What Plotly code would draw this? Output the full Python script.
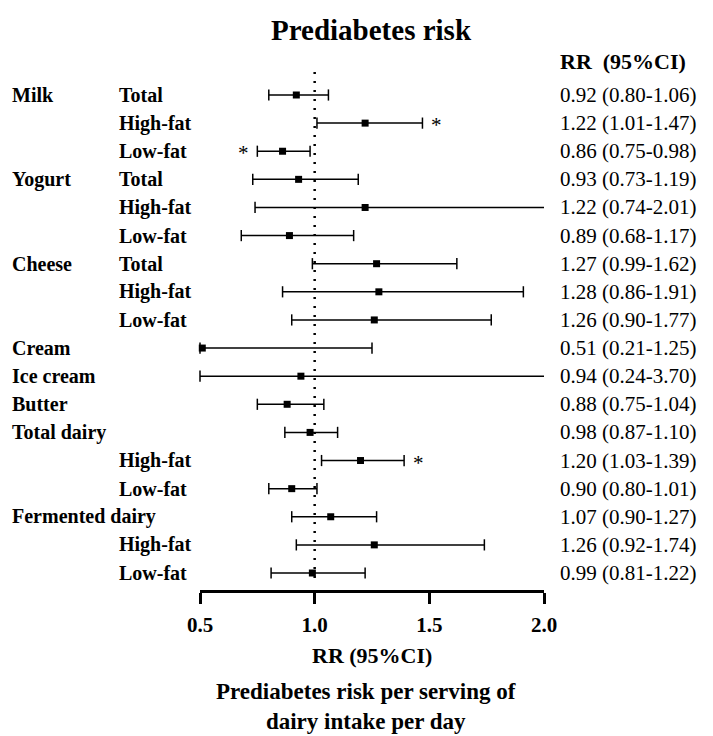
import plotly.graph_objects as go

# ---------------- data ----------------
groups = ["Milk", "", "", "Yogurt", "", "", "Cheese", "", "", "Cream", "Ice cream",
          "Butter", "Total dairy", "", "", "Fermented dairy", "", ""]
subgroups = ["Total", "High-fat", "Low-fat", "Total", "High-fat", "Low-fat", "Total",
             "High-fat", "Low-fat", "", "", "", "", "High-fat", "Low-fat", "",
             "High-fat", "Low-fat"]
rr = [0.92, 1.22, 0.86, 0.93, 1.22, 0.89, 1.27, 1.28, 1.26, 0.51, 0.94, 0.88,
      0.98, 1.20, 0.90, 1.07, 1.26, 0.99]
ci_low = [0.80, 1.01, 0.75, 0.73, 0.74, 0.68, 0.99, 0.86, 0.90, 0.21, 0.24, 0.75,
          0.87, 1.03, 0.80, 0.90, 0.92, 0.81]
ci_high = [1.06, 1.47, 0.98, 1.19, 2.01, 1.17, 1.62, 1.91, 1.77, 1.25, 3.70, 1.04,
           1.10, 1.39, 1.01, 1.27, 1.74, 1.22]
significant = [False, True, True, False, False, False, False, False, False, False,
               False, False, False, True, False, False, False, False]
tick_vals = [0.5, 1.0, 1.5, 2.0]
tick_text = ["0.5", "1.0", "1.5", "2.0"]
bottom_title = ["Prediabetes risk per serving of", "dairy intake per day"]
x_min, x_max = 0.5, 2.0

# ---------------- layout geometry (pixels) ----------------
W, H = 713, 736
PL, PR = 200, 544           # plot left / right in px
PT, PB = 60, 590            # plot top / bottom in px
ROW0, ROWN = 95, 573        # pixel centres of first and last rows
n = len(rr)
step = (ROWN - ROW0) / (n - 1)
y_top = (PT - ROW0) / step
y_bot = (n - 1) + (PB - ROWN) / step

def px_x(px):
    return (px - PL) / (PR - PL)

def px_y(py):
    return 1 - (py - PT) / (PB - PT)

FONT = "Liberation Serif, Times New Roman, serif"
rows = list(range(n))

# ---------------- CI lines & caps ----------------
lx, ly, cx, cy = [], [], [], []
for i in rows:
    a = max(ci_low[i], x_min)
    b = min(ci_high[i], x_max)
    lx += [a, b, None]
    ly += [i, i, None]
    cx.append(a); cy.append(i)
    if ci_high[i] <= x_max:
        cx.append(b); cy.append(i)

fig = go.Figure()
fig.add_trace(go.Scatter(x=lx, y=ly, mode="lines",
                         line=dict(color="black", width=1.5),
                         hoverinfo="skip", cliponaxis=False, showlegend=False))
fig.add_trace(go.Scatter(x=cx, y=cy, mode="markers",
                         marker=dict(symbol="line-ns", size=8,
                                     line=dict(color="black", width=1.5)),
                         hoverinfo="skip", cliponaxis=False, showlegend=False))
fig.add_trace(go.Scatter(x=rr, y=rows, mode="markers",
                         marker=dict(symbol="square", size=7, color="black"),
                         cliponaxis=False, showlegend=False))

# reference line at RR = 1
fig.add_shape(type="line", x0=1, x1=1, xref="x", yref="y",
              y0=(72 - ROW0) / step, y1=(582 - ROW0) / step,
              line=dict(color="black", width=2.5, dash="2px,7px"))

ann = []
# row labels
for i in rows:
    if groups[i]:
        ann.append(dict(x=px_x(10), xref="paper", y=i, yref="y", text=groups[i],
                        showarrow=False, xanchor="left", yanchor="middle",
                        font=dict(family=FONT, size=20, color="black", weight="bold")))
    if subgroups[i]:
        ann.append(dict(x=px_x(117), xref="paper", y=i, yref="y", text=subgroups[i],
                        showarrow=False, xanchor="left", yanchor="middle",
                        font=dict(family=FONT, size=20, color="black", weight="bold")))
    ann.append(dict(x=px_x(558), xref="paper", y=i, yref="y",
                    text=f"{rr[i]:.2f} ({ci_low[i]:.2f}-{ci_high[i]:.2f})",
                    showarrow=False, xanchor="left", yanchor="middle",
                    font=dict(family=FONT, size=21, color="black")))
    if significant[i]:
        if ci_high[i] < 1:
            ann.append(dict(x=ci_low[i], xref="x", y=i, yref="y", text="*",
                            showarrow=False, xanchor="center", yanchor="middle",
                            xshift=-14, yshift=-2,
                            font=dict(family=FONT, size=21, color="black")))
        else:
            ann.append(dict(x=ci_high[i], xref="x", y=i, yref="y", text="*",
                            showarrow=False, xanchor="center", yanchor="middle",
                            xshift=14, yshift=-2,
                            font=dict(family=FONT, size=21, color="black")))

# headers and titles
ann.append(dict(x=px_x(371), xref="paper", y=px_y(30), yref="paper",
                text="Prediabetes risk", showarrow=False, xanchor="center",
                yanchor="middle",
                font=dict(family=FONT, size=29, color="black", weight="bold")))
ann.append(dict(x=px_x(558), xref="paper", y=px_y(61), yref="paper",
                text="RR\u00a0 (95%CI)", showarrow=False, xanchor="left",
                yanchor="middle",
                font=dict(family=FONT, size=22, color="black", weight="bold")))
ann.append(dict(x=px_x(372), xref="paper", y=px_y(655), yref="paper",
                text="RR (95%CI)", showarrow=False, xanchor="center",
                yanchor="middle",
                font=dict(family=FONT, size=22, color="black", weight="bold")))
ann.append(dict(x=px_x(366), xref="paper", y=px_y(736), yref="paper",
                text="<br>".join(bottom_title), showarrow=False, xanchor="center",
                yanchor="bottom",
                font=dict(family=FONT, size=23, color="black", weight="bold")))

fig.update_layout(
    width=W, height=H,
    margin=dict(l=PL, r=W - PR, t=PT, b=H - PB, autoexpand=False),
    paper_bgcolor="white", plot_bgcolor="white",
    xaxis=dict(range=[x_min, x_max], tickvals=tick_vals, ticktext=tick_text,
               showgrid=False, zeroline=False, showline=True, linewidth=3,
               linecolor="black", ticks="outside", ticklen=11, tickwidth=3,
               tickcolor="black", ticklabelstandoff=3,
               tickfont=dict(family=FONT, size=21, color="black", weight="bold")),
    yaxis=dict(range=[y_bot, y_top], showgrid=False, zeroline=False,
               showticklabels=False, showline=False, ticks=""),
    annotations=ann,
    showlegend=False,
)

fig.write_html("out.html",
               config={"displayModeBar": False},
               post_script="document.body.style.margin='0';")
